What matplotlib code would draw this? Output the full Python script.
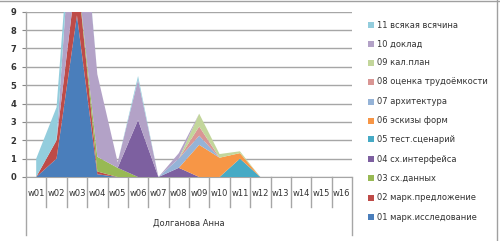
import matplotlib
matplotlib.use("Agg")
import matplotlib.pyplot as plt
from matplotlib.patches import Rectangle
from matplotlib.lines import Line2D
import matplotlib.transforms as mtransforms
import numpy as np

weeks = ["w01", "w02", "w03", "w04", "w05", "w06", "w07", "w08",
         "w09", "w10", "w11", "w12", "w13", "w14", "w15", "w16"]
group_label = "Долганова Анна"

series_names = ["01 марк.исследование", "02 марк.предложение", "03 сх.данных",
                "04 сх.интерфейса", "05 тест.сценарий", "06 эскизы форм",
                "07 архитектура", "08 оценка трудоёмкости", "09 кал.план",
                "10 доклад", "11 всякая всячина"]

s01 = [0, 1.0, 8.8, 0.15, 0, 0, 0, 0, 0, 0, 0, 0, 0, 0, 0, 0]
s02 = [0, 1.0, 2.5, 0.15, 0, 0, 0, 0, 0, 0, 0, 0, 0, 0, 0, 0]
s03 = [0, 0, 0, 0.8, 0.5, 0, 0, 0, 0, 0, 0, 0, 0, 0, 0, 0]
s04 = [0, 0, 0, 0, 0, 3.1, 0, 0.5, 0, 0, 0, 0, 0, 0, 0, 0]
s05 = [0, 0, 0, 0, 0, 0, 0, 0, 0, 0, 1.0, 0, 0, 0, 0, 0]
s06 = [0, 0, 0, 0, 0, 0, 0, 0, 1.75, 1.05, 0.3, 0, 0, 0, 0, 0]
s07 = [0, 0, 0, 0, 0, 0, 0, 0.5, 0.5, 0, 0, 0, 0, 0, 0, 0]
s08 = [0, 0, 0, 0, 0, 0, 0, 0, 0.5, 0, 0, 0, 0, 0, 0, 0]
s09 = [0, 0, 0, 0, 0, 0, 0, 0, 0.7, 0.2, 0.1, 0, 0, 0, 0, 0]
s10 = [0, 0, 7.0, 4.5, 0.3, 2.2, 0, 0.3, 0, 0, 0, 0, 0, 0, 0, 0]
s11 = [1.0, 1.8, 0.3, 0, 0, 0.2, 0, 0, 0, 0, 0, 0, 0, 0, 0, 0]

colors = ["#4A7EBB", "#BE4B48", "#98B954", "#7D60A0", "#46AAC5", "#F79646",
          "#95B3D7", "#D99694", "#C3D69B", "#B3A2C7", "#93CDDD"]

data = [s01, s02, s03, s04, s05, s06, s07, s08, s09, s10, s11]

W, H = 500, 241
plt.rcParams['font.family'] = ['DejaVu Sans']
fig = plt.figure(figsize=(W / 100, H / 100), dpi=100)

ax = fig.add_axes([26 / W, 1 - 177 / H, (352 - 26) / W, (177 - 11.7) / H])
x = np.arange(len(weeks))
ax.stackplot(x, *data, colors=colors, linewidth=0, zorder=3)

ax.set_xlim(-0.5, len(weeks) - 0.5)
ax.set_ylim(0, 9)
ax.set_yticks(range(0, 10))
ax.tick_params(axis='y', labelsize=6, length=3, color='#888888', pad=4,
               labelcolor='#333333')
for lab in ax.get_yticklabels():
    lab.set_fontweight('bold')
ax.set_xticks([])
ax.grid(axis='y', color='#a6a6a6', linewidth=1.0, zorder=0)
for sp in ['top', 'right']:
    ax.spines[sp].set_visible(False)
ax.spines['bottom'].set_color('#a6a6a6')
ax.spines['left'].set_visible(False)

trans = mtransforms.blended_transform_factory(ax.transData, ax.transAxes)
axh = 177 - 11.7
tick_bottom = -(207 - 177) / axh
outer_bottom = -(235 - 177) / axh
for i in range(1, len(weeks)):
    ax.add_line(Line2D([i - 0.5, i - 0.5], [0, tick_bottom], transform=trans,
                       color='#a6a6a6', lw=1.0, clip_on=False))
for xe in [-0.5, len(weeks) - 0.5]:
    ax.add_line(Line2D([xe, xe], [1, outer_bottom] if xe < 0 else [0, outer_bottom],
                       transform=trans, color='#a6a6a6', lw=1.0, clip_on=False))
for i, w in enumerate(weeks):
    ax.text(i, -(193 - 177) / axh, w, transform=trans, ha='center', va='center',
            fontsize=6.0, color='#333333')
ax.text((len(weeks) - 1) / 2, -(223 - 177) / axh, group_label, transform=trans,
        ha='center', va='center', fontsize=6.0, color='#333333')

# legend
leg_y = [217, 198, 178, 159, 139, 120.7, 101.7, 82, 62.7, 44, 25]
for name, c, yy in zip(series_names, colors, leg_y):
    fig.patches.append(Rectangle((368 / W, 1 - (yy + 3) / H), 6 / W, 6 / H,
                                 transform=fig.transFigure, facecolor=c,
                                 edgecolor='none'))
    fig.text(377 / W, 1 - yy / H, name, fontsize=6.0, color='#333333',
             ha='left', va='center')

# chart border (top and right)
fig.add_artist(Line2D([0, 1], [1 - 0.5 / H, 1 - 0.5 / H], transform=fig.transFigure,
                      color='#a0a0a0', lw=1.0))
fig.add_artist(Line2D([1 - 3.5 / W, 1 - 3.5 / W], [0, 1], transform=fig.transFigure,
                      color='#a0a0a0', lw=1.0))

fig.savefig("out.png", dpi=100)
